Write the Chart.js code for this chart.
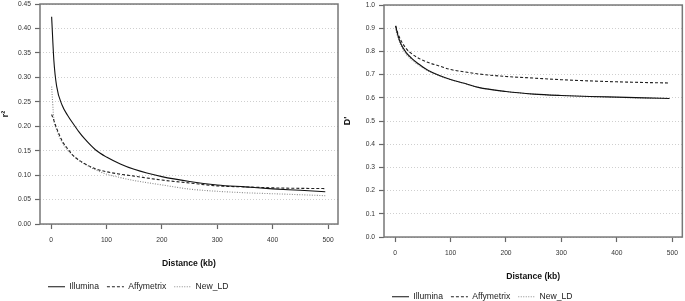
<!DOCTYPE html>
<html>
<head>
<meta charset="utf-8">
<script src="https://cdn.jsdelivr.net/npm/chart.js@4.4.0/dist/chart.umd.min.js"></script>
<style>
    body { margin: 0; background: #fff; overflow: hidden; }
    #left { position: absolute; left: 0; top: -4px; width: 342px; height: 305px; }
    #right { position: absolute; left: 342px; top: -3px; width: 343px; height: 314px; }
</style>
</head>
<body>
<div id="left"><canvas id="r2Chart"></canvas></div>
<div id="right"><canvas id="dChart"></canvas></div>
<script>
// distance bins (kb)
const distances = [1, 5, 10, 20, 30, 40, 50, 60, 80, 100, 125, 150, 200, 250, 300, 350, 400, 450, 495];

// r2 by platform
const illuminaR2 = [0.424, 0.335, 0.282, 0.243, 0.222, 0.205, 0.189, 0.175, 0.152, 0.137, 0.123, 0.112, 0.097, 0.087, 0.080, 0.076, 0.072, 0.069, 0.066];
const affyR2     = [0.224, 0.212, 0.196, 0.170, 0.154, 0.140, 0.131, 0.124, 0.113, 0.107, 0.102, 0.098, 0.090, 0.084, 0.078, 0.076, 0.074, 0.073, 0.0725];
const newldR2    = [0.281, 0.215, 0.193, 0.167, 0.151, 0.140, 0.130, 0.123, 0.111, 0.102, 0.095, 0.089, 0.080, 0.0715, 0.067, 0.064, 0.062, 0.060, 0.058];

// D' by platform
const illuminaD = [0.91, 0.87, 0.835, 0.795, 0.77, 0.75, 0.733, 0.718, 0.696, 0.679, 0.663, 0.645, 0.627, 0.616, 0.610, 0.606, 0.603, 0.600, 0.597];
const affyD     = [0.91, 0.878, 0.85, 0.812, 0.79, 0.774, 0.762, 0.752, 0.737, 0.722, 0.712, 0.703, 0.692, 0.685, 0.678, 0.673, 0.669, 0.666, 0.664];
const newldD    = [0.895, 0.86, 0.828, 0.788, 0.764, 0.745, 0.729, 0.715, 0.694, 0.678, 0.662, 0.645, 0.627, 0.616, 0.610, 0.606, 0.602, 0.599, 0.597];

const platforms = ['Illumina', 'Affymetrix', 'New_LD'];
const xTicks = [0, 100, 200, 300, 400, 500];
const r2Ticks = [0, 0.05, 0.10, 0.15, 0.20, 0.25, 0.30, 0.35, 0.40, 0.45];
const dTicks = [0, 0.1, 0.2, 0.3, 0.4, 0.5, 0.6, 0.7, 0.8, 0.9, 1.0];

const FONT = 'Liberation Sans, Arial, sans-serif';

const lineStyles = [
    { borderColor: '#111', borderWidth: 1.1, borderDash: [] },
    { borderColor: '#222', borderWidth: 1.1, borderDash: [3, 2] },
    { borderColor: '#8a8a8a', borderWidth: 1.1, borderDash: [1, 1.5] },
];

const framePlugin = {
    id: 'frame',
    afterDatasetsDraw(chart) {
        const { ctx, chartArea: a } = chart;
        ctx.save();
        ctx.strokeStyle = '#777';
        ctx.lineWidth = 1.5;
        ctx.strokeRect(a.left, a.top, a.right - a.left, a.bottom - a.top);
        ctx.restore();
    }
};

function makeDatasets(series) {
    return series.map((vals, i) => ({
        label: platforms[i],
        data: distances.map((d, j) => ({ x: d, y: vals[j] })),
        borderColor: lineStyles[i].borderColor,
        borderWidth: lineStyles[i].borderWidth,
        borderDash: lineStyles[i].borderDash,
        pointRadius: 0,
        fill: false,
        cubicInterpolationMode: 'monotone',
    }));
}

function makeChart(id, series, opts) {
    const ctx = document.getElementById(id).getContext('2d');
    return new Chart(ctx, {
        type: 'line',
        data: { datasets: makeDatasets(series) },
        plugins: [framePlugin],
        options: {
            responsive: true,
            maintainAspectRatio: false,
            animation: false,
            layout: { padding: opts.padding },
            plugins: {
                tooltip: { enabled: false },
                legend: {
                    position: 'bottom',
                    align: 'start',
                    fullSize: false,
                    labels: {
                        usePointStyle: true,
                        pointStyle: 'line',
                        pointStyleWidth: 17,
                        font: { family: FONT, size: 8.6 },
                        color: '#222',
                        padding: 8,
                        // keep the dash pattern of each line in its legend sample
                        generateLabels: chart => chart.data.datasets.map((ds, i) => ({
                            text: ds.label,
                            strokeStyle: ds.borderColor,
                            fillStyle: ds.borderColor,
                            lineWidth: ds.borderWidth,
                            lineDash: ds.borderDash,
                            pointStyle: 'line',
                            hidden: false,
                            datasetIndex: i,
                            fontColor: '#222',
                        })),
                    },
                },
            },
            scales: {
                x: {
                    type: 'linear',
                    min: -20,
                    max: 518,
                    afterBuildTicks: s => { s.ticks = xTicks.map(v => ({ value: v })) },
                    grid: { drawOnChartArea: false, tickColor: '#666', tickLength: 5, tickWidth: 1.2 },
                    border: { display: false },
                    ticks: { font: { family: FONT, size: 6.7 }, color: '#333', padding: 7, maxRotation: 0 },
                    title: {
                        display: true,
                        text: 'Distance (kb)',
                        font: { family: FONT, size: 8.6, weight: 'bold' },
                        color: '#111',
                        padding: { top: 7, bottom: opts.titleGap },
                    },
                },
                y: {
                    min: opts.yMin,
                    max: opts.yMax,
                    afterBuildTicks: s => { s.ticks = opts.yTicks.map(v => ({ value: v })) },
                    afterFit: s => { s.width = opts.yWidth },
                    grid: { color: '#cfcfcf', lineWidth: 1, tickColor: '#666', tickLength: 5, tickWidth: 1.2 },
                    border: { display: false, dash: [1, 2] },
                    ticks: {
                        font: { family: FONT, size: 6.7 },
                        color: '#333',
                        padding: 4,
                        callback: v => v.toFixed(opts.decimals),
                    },
                    title: {
                        display: true,
                        text: opts.yTitle,
                        font: { family: FONT, size: 9, weight: 'bold' },
                        color: '#111',
                        padding: { top: 0, bottom: 4 },
                    },
                },
            },
        },
    });
}

makeChart('r2Chart', [illuminaR2, affyR2, newldR2], {
    yMin: 0, yMax: 0.45, yTicks: r2Ticks, decimals: 2, yTitle: 'r²', yWidth: 40, titleGap: 6,
    padding: { left: 0, right: 4, top: 0, bottom: 0 },
});

makeChart('dChart', [illuminaD, affyD, newldD], {
    yMin: 0, yMax: 1.0, yTicks: dTicks, decimals: 1, yTitle: "D'", yWidth: 42, titleGap: 3,
    padding: { left: 0, right: 2, top: 1, bottom: 0 },
});
</script>
</body>
</html>
